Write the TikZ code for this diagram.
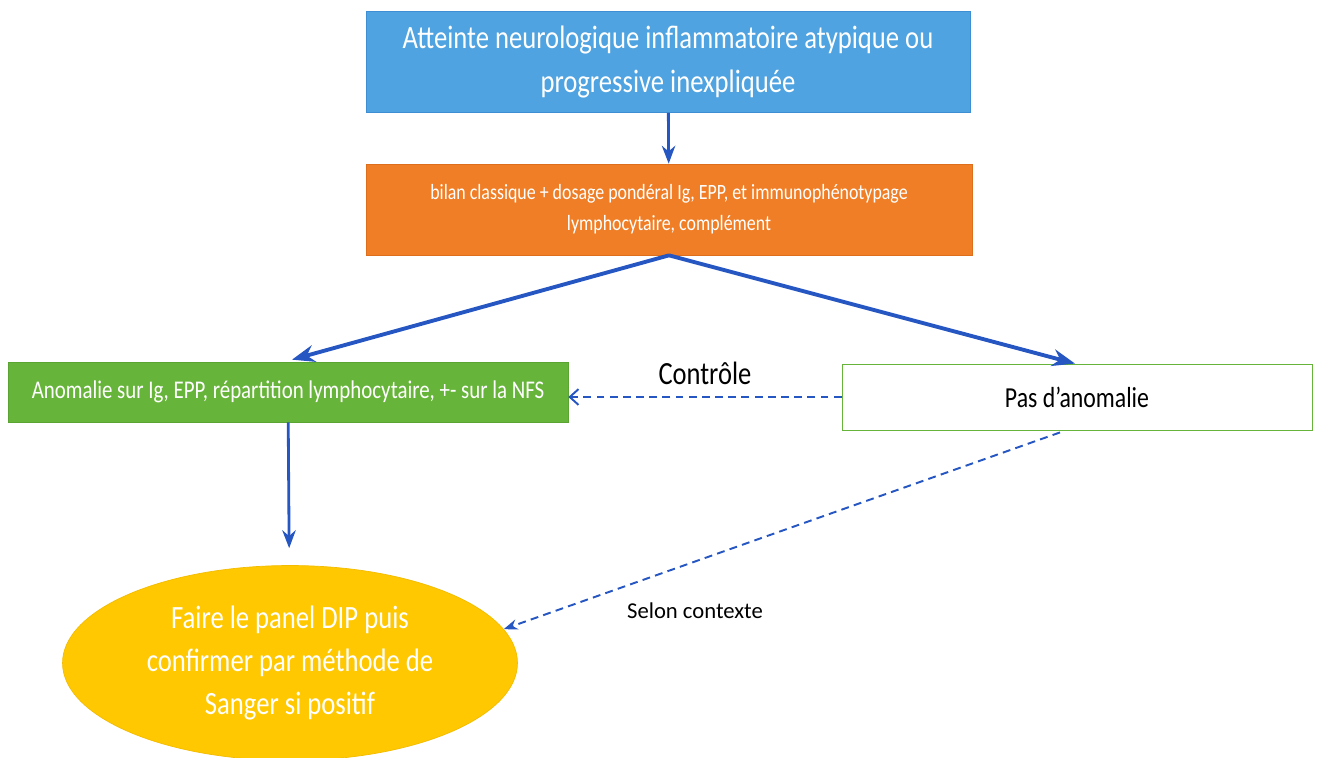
\documentclass[tikz,border=0pt]{standalone}
\usepackage{fontspec}
\setmainfont{Carlito}
\newfontfamily\etroit{Carlito}[FakeStretch=0.82]
\usetikzlibrary{arrows.meta,calc,positioning,shapes.geometric}
\definecolor{dip-bleu}{HTML}{4FA3E0}
\definecolor{dip-bleubord}{HTML}{3E8ED3}
\definecolor{dip-orange}{HTML}{F07E26}
\definecolor{dip-orangebord}{HTML}{DC6E1C}
\definecolor{dip-vert}{HTML}{67B43A}
\definecolor{dip-vertbord}{HTML}{5AA432}
\definecolor{dip-jaune}{HTML}{FFC800}
\definecolor{dip-jaunebord}{HTML}{F3BC00}
\definecolor{dip-fleche}{HTML}{2556C2}

\begin{document}
\begin{tikzpicture}[x=0.02cm,y=-0.02cm,>=Stealth,
  boite/.style={draw,rectangle,inner sep=2pt,align=center},
  fleche/.style={->,dip-fleche,line width=1.8pt},
  pointille/.style={->,dip-fleche,line width=1.1pt,dash pattern=on 4.5pt off 3pt}]
  % Cadre de la figure
  \useasboundingbox (0,0) rectangle (1320,758);

  % Boites du schema
  \node[boite,fill=dip-bleu,draw=dip-bleubord,text=white,minimum width=12.08cm,
    minimum height=2.02cm,font=\etroit\fontsize{18.5}{25.5}\selectfont] (atteinte) at (668,62)
    {Atteinte neurologique inflammatoire atypique ou\\progressive inexpliquée};
  \node[boite,fill=dip-orange,draw=dip-orangebord,text=white,minimum width=12.12cm,
    minimum height=1.82cm,font=\etroit\fontsize{12.4}{17.6}\selectfont] (bilan) at (669,209.5)
    {bilan classique + dosage pondéral Ig, EPP, et immunophénotypage\\lymphocytaire, complément};
  \node[boite,fill=dip-vert,draw=dip-vertbord,text=white,minimum width=11.2cm,
    minimum height=1.2cm,font=\etroit\fontsize{14.5}{16}\selectfont] (anomalie) at (288,392)
    {Anomalie sur Ig, EPP, répartition lymphocytaire, +- sur la NFS};
  \node[boite,fill=white,draw=dip-vert,line width=0.5pt,minimum width=9.4cm,
    minimum height=1.32cm,font=\etroit\fontsize{16.5}{18}\selectfont] (normal) at (1077,397)
    {Pas d’anomalie};
  \node[ellipse,fill=dip-jaune,draw=dip-jaunebord,text=white,minimum width=9.1cm,
    minimum height=3.9cm,align=center,font=\etroit\fontsize{18.5}{24.7}\selectfont] (panel) at (290,663)
    {Faire le panel DIP puis\\confirmer par méthode de\\Sanger si positif};

  % Fleches pleines
  \draw[fleche,line width=1.6pt] (atteinte) -- (bilan);
  \draw[fleche,line width=2.2pt] (bilan.south) -- ($(anomalie.north)+(4,-2)$);
  \draw[fleche,line width=2.2pt] (bilan.south) -- ($(normal.north)+(-2,0)$);
  \draw[fleche,line width=1.6pt,shorten >=0.34cm] (anomalie) -- (panel);

  % Fleches en pointilles
  \draw[pointille,-{Straight Barb[length=5pt,width=9pt]}] (normal.west) --
    node[above=3pt,text=black,font=\etroit\fontsize{18.4}{20}\selectfont] (controle) {Contrôle}
    (normal.west -| anomalie.east);
  \draw[pointille] ($(normal.south)+(-17,2)$) -- (panel.9);
  \node[font=\fontsize{12.9}{14}\selectfont] (contexte) at (695,611) {Selon contexte};
\end{tikzpicture}
\end{document}
